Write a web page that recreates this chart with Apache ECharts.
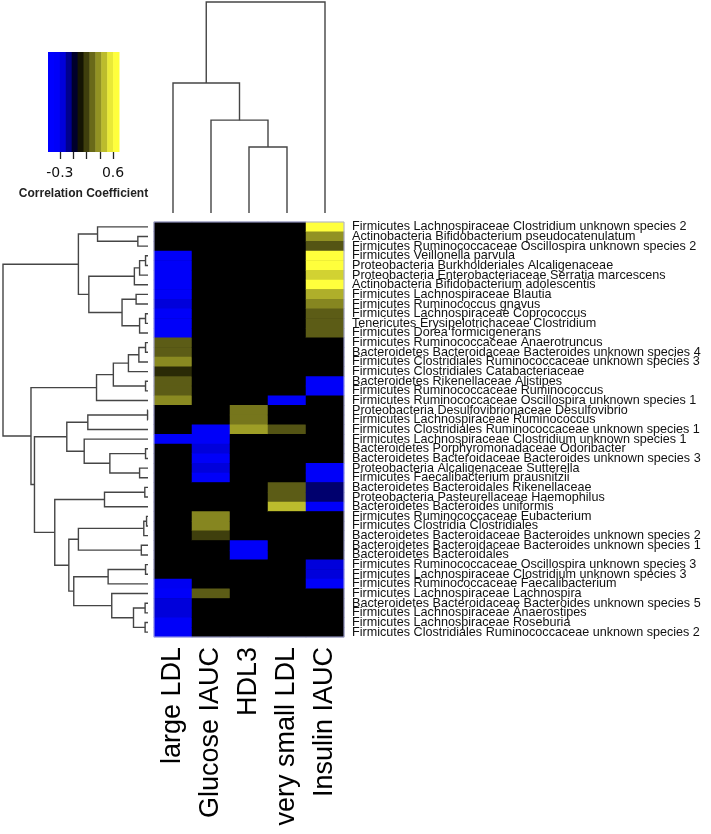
<!DOCTYPE html>
<html><head><meta charset="utf-8">
<script src="https://cdn.jsdelivr.net/npm/echarts@6/dist/echarts.min.js"></script>
<style>html,body{margin:0;padding:0;background:#fff}#c{width:711px;height:834px}</style>
</head><body><div id="c"></div>
<script>
const rowLabels = [
  'Firmicutes Lachnospiraceae Clostridium unknown species 2',
  'Actinobacteria Bifidobacterium pseudocatenulatum',
  'Firmicutes Ruminococcaceae Oscillospira unknown species 2',
  'Firmicutes Veillonella parvula',
  'Proteobacteria Burkholderiales Alcaligenaceae',
  'Proteobacteria Enterobacteriaceae Serratia marcescens',
  'Actinobacteria Bifidobacterium adolescentis',
  'Firmicutes Lachnospiraceae Blautia',
  'Firmicutes Ruminococcus gnavus',
  'Firmicutes Lachnospiraceae Coprococcus',
  'Tenericutes Erysipelotrichaceae Clostridium',
  'Firmicutes Dorea formicigenerans',
  'Firmicutes Ruminococcaceae Anaerotruncus',
  'Bacteroidetes Bacteroidaceae Bacteroides unknown species 4',
  'Firmicutes Clostridiales Ruminococcaceae unknown species 3',
  'Firmicutes Clostridiales Catabacteriaceae',
  'Bacteroidetes Rikenellaceae Alistipes',
  'Firmicutes Ruminococcaceae Ruminococcus',
  'Firmicutes Ruminococcaceae Oscillospira unknown species 1',
  'Proteobacteria Desulfovibrionaceae Desulfovibrio',
  'Firmicutes Lachnospiraceae Ruminococcus',
  'Firmicutes Clostridiales Ruminococcaceae unknown species 1',
  'Firmicutes Lachnospiraceae Clostridium unknown species 1',
  'Bacteroidetes Porphyromonadaceae Odoribacter',
  'Bacteroidetes Bacteroidaceae Bacteroides unknown species 3',
  'Proteobacteria Alcaligenaceae Sutterella',
  'Firmicutes Faecalibacterium prausnitzii',
  'Bacteroidetes Bacteroidales Rikenellaceae',
  'Proteobacteria Pasteurellaceae Haemophilus',
  'Bacteroidetes Bacteroides uniformis',
  'Firmicutes Ruminococcaceae Eubacterium',
  'Firmicutes Clostridia Clostridiales',
  'Bacteroidetes Bacteroidaceae Bacteroides unknown species 2',
  'Bacteroidetes Bacteroidaceae Bacteroides unknown species 1',
  'Bacteroidetes Bacteroidales',
  'Firmicutes Ruminococcaceae Oscillospira unknown species 3',
  'Firmicutes Lachnospiraceae Clostridium unknown species 3',
  'Firmicutes Ruminococcaceae Faecalibacterium',
  'Firmicutes Lachnospiraceae Lachnospira',
  'Bacteroidetes Bacteroidaceae Bacteroides unknown species 5',
  'Firmicutes Lachnospiraceae Anaerostipes',
  'Firmicutes Lachnospiraceae Roseburia',
  'Firmicutes Clostridiales Ruminococcaceae unknown species 2'
];
const colLabels = ['large LDL', 'Glucose IAUC', 'HDL3', 'very small LDL', 'Insulin IAUC'];

const largeLDL = [0,0,0,-0.35,-0.35,-0.35,-0.35,-0.35,-0.25,-0.35,-0.35,-0.35,
  0.22,0.22,0.33,0.1,0.22,0.22,0.33,0,0,0,-0.35,0,0,0,0,0,0,0,0,0,0,0,0,0,0,
  -0.3,-0.35,-0.25,-0.25,-0.35,-0.35];
const glucoseIAUC = [0,0,0,0,0,0,0,0,0,0,0,0,0,0,0,0,0,0,0,0,0,
  -0.35,-0.35,-0.25,-0.35,-0.25,-0.35,0,0,0,0.32,0.32,0.15,0,0,0,0,0,0.22,0,0,0,0];
const hdl3 = [0,0,0,0,0,0,0,0,0,0,0,0,0,0,0,0,0,0,0,0.28,0.28,0.38,0,0,0,0,0,0,0,0,
  0,0,0,-0.35,-0.35,0,0,0,0,0,0,0,0];
const verySmallLDL = [0,0,0,0,0,0,0,0,0,0,0,0,0,0,0,0,0,0,-0.35,0,0,0.2,0,0,0,0,0,
  0.22,0.22,0.45,0,0,0,0,0,0,0,0,0,0,0,0,0];
const insulinIAUC = [0.6,0.35,0.2,0.6,0.6,0.5,0.6,0.42,0.32,0.22,0.22,0.22,0,0,0,0,
  -0.35,-0.35,0,0,0,0,0,0,0,-0.35,-0.35,-0.12,-0.12,-0.35,0,0,0,0,0,-0.25,-0.25,-0.35,
  0,0,0,0,0];

// dendrogram merges (R style: negative = leaf number, positive = earlier merge), height
const rowMerges = [
  [-2,-3,0.07],[-1,1,0.348],[-4,-5,0.017],[3,-6,0.058],[4,-7,0.094],[-8,-9,0.082],
  [-10,-11,0.017],[7,-12,0.058],[6,8,0.179],[5,9,0.408],[2,10,0.48],
  [-13,-14,0.017],[12,-15,0.063],[13,-16,0.135],[-17,-18,0.017],[14,15,0.239],[16,-19,0.355],
  [-20,-21,0.003],[18,-22,0.415],[-24,-25,0.017],[-26,-27,0.058],[20,21,0.263],[-23,22,0.44],[19,23,0.56],
  [-28,-29,0.022],[25,-30,0.3],[-31,-32,0.01],[27,-33,0.029],[-34,-35,0.046],[28,29,0.48],
  [-36,-37,0.017],[31,-38,0.275],[-40,-41,0.02],[-42,-43,0.02],[33,34,0.1],[-39,35,0.25],
  [32,36,0.512],[30,37,0.546],[26,38,0.643],[24,39,0.783],[17,40,0.807],[11,41,1.0]
];
const colMerges = [[-3,-4,0.313],[-2,1,0.44],[-1,2,0.616],[3,-5,1.0]];

const legendBreaks = [-0.5,-0.4,-0.3,-0.2,-0.1,0,0.1,0.2,0.3,0.4,0.5,0.6,0.7];
const legendTicks = [-0.3,-0.075,0.15,0.375,0.6];
const legendTickLabels = [-0.3,0.6];
const colorStops = ['#0000ff','#0000ff','#0000f2','#0000c4','#000058','#000000',
  '#2a2a06','#545414','#7e7e1e','#a6a628','#d2d232','#ffff3c','#ffff3c'];

const columns = [largeLDL, glucoseIAUC, hdl3, verySmallLDL, insulinIAUC];
const heatData = [];
columns.forEach((col, c) => col.forEach((v, r) => heatData.push([c, r, v])));

function layoutDendro(merges) {
  const pos = [], hgt = [], segs = [];
  const get = k => k < 0 ? [(-k) - 1, 0] : [pos[k - 1], hgt[k - 1]];
  merges.forEach(([a, b, h]) => {
    const [pa, ha] = get(a), [pb, hb] = get(b);
    pos.push((pa + pb) / 2); hgt.push(h);
    segs.push([ha, pa, h, pb, hb]);
  });
  return segs;
}
const rowSegs = layoutDendro(rowMerges);
const colSegs = layoutDendro(colMerges);
const legendData = legendBreaks.slice(0, -1).map((b, i) => [b, legendBreaks[i + 1], (b + legendBreaks[i + 1]) / 2]);

const lineStyle = { stroke: '#454545', lineWidth: 1.4, fill: null };

const chart = echarts.init(document.getElementById('c'));
chart.setOption({
  animation: false,
  backgroundColor: '#fff',
  grid: [
    { left: 154, top: 222, width: 190, height: 415, show: true, z: 10, borderColor: '#a8aae0', borderWidth: 1,
      backgroundColor: 'transparent' },
    { left: 3, top: 222, width: 145, height: 415 },
    { left: 154, top: 2, width: 190, height: 211 },
    { left: 48, top: 52, width: 71, height: 100 },
    { left: 154, top: 222, width: 190, height: 415, show: true, z: 0, borderWidth: 0, backgroundColor: '#000' }
  ],
  xAxis: [
    { gridIndex: 0, type: 'category', data: colLabels, axisLine: { show: false }, axisTick: { show: false },
      axisLabel: { rotate: 90, fontSize: 27, margin: 10, color: '#000', fontFamily: 'Liberation Sans' } },
    { gridIndex: 1, type: 'value', min: 0, max: 1, inverse: true, show: false },
    { gridIndex: 2, type: 'value', min: -0.5, max: 4.5, show: false },
    { gridIndex: 3, type: 'value', min: -0.5, max: 0.7, splitLine: { show: false },
      axisLine: { show: false },
      axisTick: { show: true, length: 7, customValues: legendTicks, lineStyle: { color: '#222', width: 1.3 } },
      axisLabel: { customValues: legendTickLabels, fontSize: 14, margin: 14, color: '#111', fontFamily: 'DejaVu Sans',
        formatter: v => String(v) },
      name: 'Correlation Coefficient', nameLocation: 'middle', nameGap: 36,
      nameTextStyle: { fontSize: 12, fontWeight: 'bold', color: '#222', fontFamily: 'Liberation Sans' } },
    { gridIndex: 4, type: 'value', show: false }
  ],
  yAxis: [
    { gridIndex: 0, type: 'category', data: rowLabels, inverse: true, position: 'right',
      axisLine: { show: false }, axisTick: { show: false },
      axisLabel: { interval: 0, fontSize: 12.6, margin: 8, color: '#111', fontFamily: 'Liberation Sans' } },
    { gridIndex: 1, type: 'value', min: -0.5, max: 42.5, inverse: true, show: false },
    { gridIndex: 2, type: 'value', min: 0, max: 1, show: false },
    { gridIndex: 3, type: 'value', min: 0, max: 1, show: false },
    { gridIndex: 4, type: 'value', show: false }
  ],
  visualMap: {
    show: false, type: 'continuous', min: -0.5, max: 0.7, dimension: 2, seriesIndex: [0, 1],
    inRange: { color: colorStops }
  },
  series: [
    { type: 'heatmap', xAxisIndex: 0, yAxisIndex: 0, data: heatData, itemStyle: { borderWidth: 0 },
      emphasis: { disabled: true } },
    { type: 'custom', xAxisIndex: 3, yAxisIndex: 3, data: legendData,
      renderItem: (params, api) => {
        const p0 = api.coord([api.value(0), 0]);
        const p1 = api.coord([api.value(1), 1]);
        return { type: 'rect', shape: { x: p0[0], y: p1[1], width: p1[0] - p0[0] + 0.5, height: p0[1] - p1[1] },
          style: { fill: api.visual('color') } };
      } },
    { type: 'custom', xAxisIndex: 1, yAxisIndex: 1, data: rowSegs, silent: true,
      renderItem: (params, api) => {
        const ha = api.value(0), pa = api.value(1), h = api.value(2), pb = api.value(3), hb = api.value(4);
        return { type: 'polyline', shape: { points: [api.coord([ha, pa]), api.coord([h, pa]), api.coord([h, pb]), api.coord([hb, pb])] },
          style: lineStyle };
      } },
    { type: 'custom', xAxisIndex: 2, yAxisIndex: 2, data: colSegs, silent: true,
      renderItem: (params, api) => {
        const ha = api.value(0), pa = api.value(1), h = api.value(2), pb = api.value(3), hb = api.value(4);
        return { type: 'polyline', shape: { points: [api.coord([pa, ha]), api.coord([pa, h]), api.coord([pb, h]), api.coord([pb, hb])] },
          style: lineStyle };
      } }
  ]
});
</script></body></html>
